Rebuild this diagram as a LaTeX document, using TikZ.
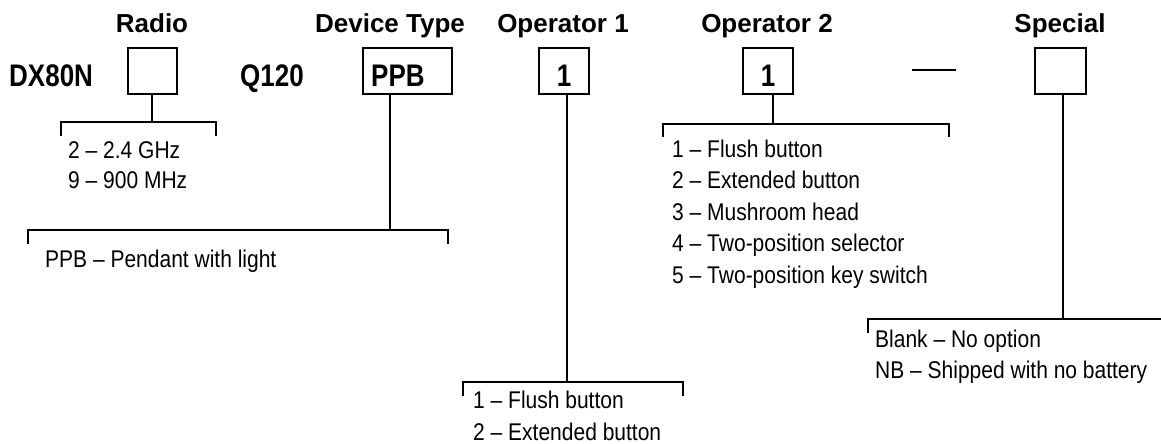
\documentclass[tikz,border=0pt]{standalone}
\usepackage{graphicx}
\usepackage{fontspec}
\setmainfont{Liberation Sans}
\newcommand{\tallcode}[1]{\scalebox{1}[1.2]{#1}}
\newcommand{\tallitem}[1]{\scalebox{1}[1.15]{#1}}
\begin{document}
\begin{tikzpicture}[x=1pt,y=-1pt,
  title/.style={font=\fontsize{26}{30}\selectfont\bfseries, inner sep=0, anchor=base},
  code/.style={font=\fontsize{26}{30}\selectfont\bfseries, inner sep=0},
  box/.style={draw, line width=1.8pt, minimum height=46pt, inner sep=0},
  item/.style={font=\fontsize{21}{25}\selectfont, inner sep=0, anchor=base west},
  conn/.style={line width=1.8pt}]
\useasboundingbox (0,0) rectangle (1161,444);
% titles
\node[title] (tRadio) at (152,33) {Radio};
\node[title] (tDev) at (390,33) {Device Type};
\node[title] (tOp1) at (563,33) {Operator 1};
\node[title] (tOp2) at (767,33) {Operator 2};
\node[title] (tSpec) at (1060,33) {Special};
% code row
\node[code, anchor=base west] (dx) at (9,86) {\tallcode{DX80N}};
\node[code, anchor=base west] (q) at (240,86) {\tallcode{Q120}};
\node[box, minimum width=49pt] (bRadio) at (152.5,71) {};
\node[box, minimum width=89pt] (bPPB) at (407.5,71) {};
\node[code, anchor=base west] (ppbtxt) at (371,86) {\tallcode{PPB}};
\node[box, minimum width=50pt] (bOp1) at (564,71) {};
\node[code, anchor=base] (op1txt) at (564,86) {\tallcode{1}};
\node[box, minimum width=50pt] (bOp2) at (768,71) {};
\node[code, anchor=base] (op2txt) at (768,86) {\tallcode{1}};
\node[box, minimum width=51pt] (bSpec) at (1060.5,71) {};
\coordinate (d1) at (912,70);
\coordinate (d2) at (956,70);
\draw[conn] (d1) -- (d2);
% bracket junctions
\coordinate (jRadio) at (152,122);
\coordinate (jPPB) at (390,230);
\coordinate (jOp1) at (567,382);
\coordinate (jOp2) at (773,124);
\coordinate (jSpec) at (1063,319);
\draw[conn] (bRadio.south -| jRadio) -- (jRadio);
\draw[conn] (bPPB.south -| jPPB) -- (jPPB);
\draw[conn] (bOp1.south -| jOp1) -- (jOp1);
\draw[conn] (bOp2.south -| jOp2) -- (jOp2);
\draw[conn] (bSpec.south -| jSpec) -- (jSpec);
% brackets
\draw[conn] (61,136) -- (61,122) -- (216,122) -- (216,136);
\draw[conn] (28,244) -- (28,230) -- (448,230) -- (448,244);
\draw[conn] (463,396) -- (463,382) -- (683,382) -- (683,396);
\draw[conn] (663,137) -- (663,124) -- (949,124) -- (949,137);
\draw[conn] (868,333) -- (868,319) -- (1161,319);
% option lists
\node[item] (r1) at (68,158) {\tallitem{2 – 2.4 GHz}};
\node[item] (r2) at (68,188.5) {\tallitem{9 – 900 MHz}};
\node[item] (p1) at (45,267) {\tallitem{PPB – Pendant with light}};
\node[item] (a1) at (473,408) {\tallitem{1 – Flush button}};
\node[item] (a2) at (473,440) {\tallitem{2 – Extended button}};
\node[item] (b1) at (672,157) {\tallitem{1 – Flush button}};
\node[item] (b2) at (672,188.5) {\tallitem{2 – Extended button}};
\node[item] (b3) at (672,220) {\tallitem{3 – Mushroom head}};
\node[item] (b4) at (672,251.5) {\tallitem{4 – Two-position selector}};
\node[item] (b5) at (672,283) {\tallitem{5 – Two-position key switch}};
\node[item] (s1) at (875,347) {\tallitem{Blank – No option}};
\node[item] (s2) at (875,378) {\tallitem{NB – Shipped with no battery}};
\end{tikzpicture}
\end{document}
